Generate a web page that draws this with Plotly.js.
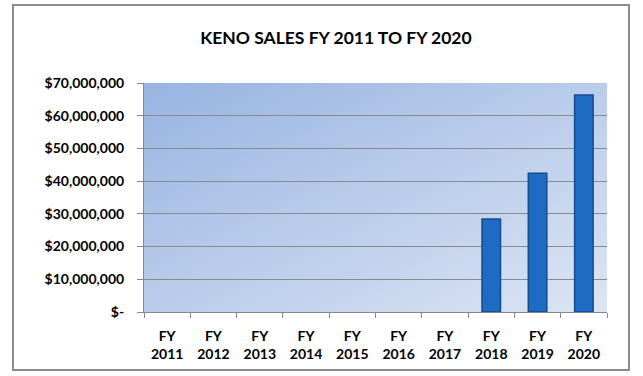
<!DOCTYPE html>
<html><head><meta charset="utf-8">
<script src="https://cdn.plot.ly/plotly-3.0.1.min.js"></script>
<style>html,body{margin:0;padding:0;background:#fff;}#chart{width:643px;height:376px;}</style>
</head><body><div id="chart"></div>
<script>
const categories = ["FY<br>2011","FY<br>2012","FY<br>2013","FY<br>2014","FY<br>2015","FY<br>2016","FY<br>2017","FY<br>2018","FY<br>2019","FY<br>2020"];
const sales = [0,0,0,0,0,0,0,28400000,42400000,66300000];
const yTickVals = [0,10000000,20000000,30000000,40000000,50000000,60000000,70000000];
const yTickText = ["$-","$10,000,000","$20,000,000","$30,000,000","$40,000,000","$50,000,000","$60,000,000","$70,000,000"];

const svg = '<svg xmlns="http://www.w3.org/2000/svg" width="463" height="229"><defs><linearGradient id="g" x1="0" y1="0" x2="1" y2="1"><stop offset="0" stop-color="#98B4E2"/><stop offset="1" stop-color="#DCE5F4"/></linearGradient></defs><rect width="463" height="229" fill="url(#g)"/></svg>';
const bgSrc = 'data:image/svg+xml;base64,' + btoa(svg);

const font = "Lato, 'Open Sans', sans-serif";
Plotly.newPlot('chart', [{
  type: 'bar', x: categories, y: sales,
  marker: {color: '#1D6BC2', line: {color: '#134C91', width: sales.map(v => v > 0 ? 1.5 : 0)}},
  width: 0.4, hoverinfo: 'skip'
}], {
  width: 643, height: 376,
  margin: {l: 144, r: 36, t: 83, b: 64, pad: 0},
  paper_bgcolor: '#fff', plot_bgcolor: 'rgba(0,0,0,0)',
  title: {text: '<b>KENO SALES FY 2011 TO FY 2020</b>', font: {family: font, size: 17.5, color: '#000'}, x: 0.5225, xanchor: 'center', y: 0.9, yanchor: 'middle'},
  xaxis: {type: 'category', tickson: 'boundaries', ticks: 'outside', ticklen: 5, tickcolor: '#888',
          showline: true, linecolor: '#888', linewidth: 1, showgrid: false, ticklabelstandoff: 11,
          tickfont: {family: font, size: 14, color: '#000', weight: 'bold'}},
  yaxis: {range: [0, 70000000], tickvals: yTickVals, ticktext: yTickText, ticks: 'outside', ticklen: 6, tickcolor: '#888',
          showline: true, linecolor: '#888', linewidth: 1, gridcolor: '#8A8A8A', gridwidth: 1, zeroline: false,
          ticklabelstandoff: 10,
          tickfont: {family: font, size: 14, color: '#000', weight: 'bold'}},
  images: [{source: bgSrc, xref: 'paper', yref: 'paper', x: 0, y: 1, sizex: 1, sizey: 1, sizing: 'stretch', layer: 'below'}],
  shapes: [{type: 'rect', xref: 'paper', yref: 'paper', x0: -0.283, x1: 1.0475, y0: -0.253, y1: 1.3406, line: {color: '#8C8C8C', width: 2}, fillcolor: 'rgba(0,0,0,0)'}],
  showlegend: false, bargap: 0.6
}, {staticPlot: true});
</script></body></html>
